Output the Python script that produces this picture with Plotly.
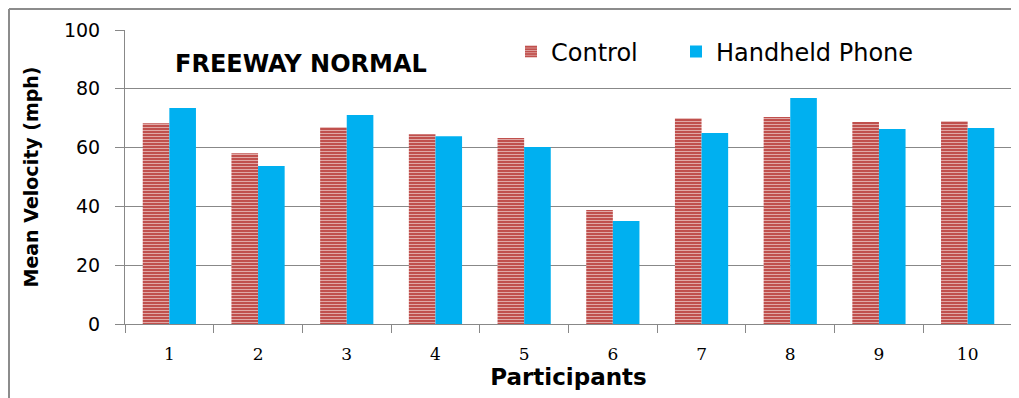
import plotly.graph_objects as go

participants = ["1", "2", "3", "4", "5", "6", "7", "8", "9", "10"]
control = [68.3, 58.1, 66.9, 64.5, 63.3, 38.8, 70.0, 70.4, 68.7, 69.0]
handheld = [73.5, 53.7, 71.1, 63.9, 60.2, 35.0, 65.0, 76.9, 66.3, 66.7]
y_ticks = [0, 20, 40, 60, 80, 100]

W, H = 1019, 398
OFF = 8  # page offset of the figure in the screenshot
SL, SR, ST, SB = 125, 1012, 30, 324  # plot area in screen pixels
pw, ph = SR - SL, SB - ST

def px_x(p):
    return (p - SL) / pw

def px_y(p):
    return (SB - p) / ph

fig = go.Figure()
fig.add_trace(go.Bar(
    x=participants, y=control, name="Control", legend="legend",
    marker=dict(color="#C0504D", line=dict(width=0),
                pattern=dict(shape="-", fgcolor="white", bgcolor="#C0504D",
                             size=3, solidity=0.35)),
))
fig.add_trace(go.Bar(
    x=participants, y=handheld, name="Handheld Phone", legend="legend2",
    marker=dict(color="#00B0F0", line=dict(width=0)),
))

grid = "#888888"
leg_font = dict(family="DejaVu Sans", size=24, color="black")
fig.update_layout(
    width=W, height=H,
    margin=dict(l=SL - OFF, r=W - (SR - OFF), t=ST - OFF, b=H - (SB - OFF)),
    paper_bgcolor="white", plot_bgcolor="white",
    barmode="group", bargap=0.40, bargroupgap=0.0,
    font=dict(family="DejaVu Sans", color="black"),
    legend=dict(orientation="h", x=px_x(511), xanchor="left",
                y=px_y(52), yanchor="middle", font=leg_font,
                bgcolor="rgba(0,0,0,0)"),
    legend2=dict(orientation="h", x=px_x(676), xanchor="left",
                 y=px_y(52), yanchor="middle", font=leg_font,
                 bgcolor="rgba(0,0,0,0)"),
    showlegend=True,
    xaxis=dict(
        type="category", showline=True, linecolor=grid, linewidth=1,
        ticks="outside", tickson="boundaries", ticklen=8, tickcolor=grid,
        tickfont=dict(family="DejaVu Serif", size=17, color="black"),
        ticklabelstandoff=15, showgrid=False,
        title=dict(text="<b>Participants</b>", font=dict(family="DejaVu Sans", size=23), standoff=5),
    ),
    yaxis=dict(
        range=[0, 100], tickvals=y_ticks, showline=True, linecolor=grid, linewidth=1,
        ticks="outside", ticklen=9, tickcolor=grid,
        tickfont=dict(family="DejaVu Sans", size=19, color="black"),
        ticklabelstandoff=11,
        showgrid=True, gridcolor=grid, gridwidth=1, zeroline=False,
        title=dict(text="<b>Mean Velocity (mph)</b>", font=dict(family="DejaVu Sans", size=19), standoff=20),
    ),
    annotations=[dict(
        text="<b>FREEWAY NORMAL</b>", xref="paper", yref="paper",
        x=px_x(173), y=px_y(64), xanchor="left", yanchor="middle",
        showarrow=False, font=dict(family="DejaVu Sans", size=24, color="black"),
    )],
    shapes=[
        dict(type="line", xref="paper", yref="paper", x0=px_x(9), x1=px_x(1030),
             y0=px_y(9), y1=px_y(9), line=dict(color="#8c8c8c", width=2)),
        dict(type="line", xref="paper", yref="paper", x0=px_x(9), x1=px_x(9),
             y0=px_y(9), y1=px_y(410), line=dict(color="#8c8c8c", width=2)),
    ],
)

fig.write_html("out.html")
